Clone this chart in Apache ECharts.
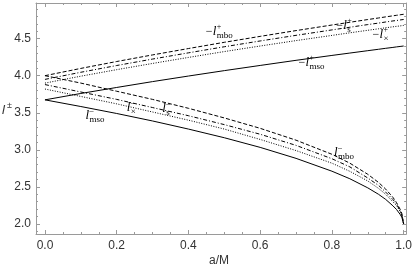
<!DOCTYPE html>
<html lang="en">
<head>
<meta charset="UTF-8" />
<title>l vs a/M</title>
<style>
  body { margin: 0; background: #fff; }
  #chart { width: 415px; height: 273px; }
</style>
</head>
<body>
<div id="chart"></div>
<script src="https://cdn.jsdelivr.net/npm/echarts@6/dist/echarts.min.js"></script>
<script>
// spin values a/M where the curves were read
const spin = [0, 0.1, 0.2, 0.3, 0.4, 0.5, 0.6, 0.7, 0.8, 0.85, 0.9, 0.93, 0.95, 0.97, 0.98, 0.99, 0.995, 1.0];

// upper branch (-l+)
const mboPlus = [4.0, 4.098, 4.191, 4.28, 4.366, 4.45, 4.53, 4.608, 4.683, 4.72, 4.757, 4.778, 4.793, 4.807, 4.814, 4.821, 4.825, 4.828];
const sPlus = [3.95, 4.046, 4.137, 4.224, 4.308, 4.39, 4.468, 4.544, 4.617, 4.653, 4.689, 4.709, 4.724, 4.738, 4.744, 4.751, 4.755, 4.758];
const xPlus = [3.9, 3.993, 4.081, 4.165, 4.246, 4.325, 4.4, 4.473, 4.543, 4.578, 4.612, 4.632, 4.646, 4.659, 4.665, 4.671, 4.675, 4.678];
const msoPlus = [3.674, 3.76, 3.841, 3.92, 3.995, 4.068, 4.138, 4.207, 4.273, 4.305, 4.337, 4.356, 4.369, 4.381, 4.388, 4.394, 4.397, 4.4];

// lower branch (l-)
const mboMinus = [4.0, 3.9, 3.79, 3.68, 3.56, 3.43, 3.29, 3.13, 2.94, 2.82, 2.67, 2.56, 2.47, 2.36, 2.29, 2.2, 2.14, 2.0];
const sMinus = [3.88, 3.78, 3.68, 3.57, 3.46, 3.34, 3.21, 3.06, 2.88, 2.77, 2.62, 2.52, 2.43, 2.33, 2.27, 2.18, 2.12, 2.0];
const xMinus = [3.82, 3.72, 3.62, 3.51, 3.4, 3.28, 3.14, 2.99, 2.82, 2.71, 2.58, 2.48, 2.4, 2.3, 2.25, 2.17, 2.11, 2.0];
const msoMinus = [3.674, 3.584, 3.49, 3.389, 3.28, 3.163, 3.033, 2.885, 2.712, 2.61, 2.487, 2.4, 2.331, 2.245, 2.196, 2.131, 2.09, 2.0];

// ticks
const xTicks = [0, 0.2, 0.4, 0.6, 0.8, 1.0];
const xMinorTicks = [0.05, 0.1, 0.15, 0.25, 0.3, 0.35, 0.45, 0.5, 0.55, 0.65, 0.7, 0.75, 0.85, 0.9, 0.95];
const yTicks = [2.0, 2.5, 3.0, 3.5, 4.0, 4.5];
const yMinorTicks = [1.9, 2.1, 2.2, 2.3, 2.4, 2.6, 2.7, 2.8, 2.9, 3.1, 3.2, 3.3, 3.4, 3.6, 3.7, 3.8, 3.9, 4.1, 4.2, 4.3, 4.4, 4.6, 4.7, 4.8, 4.9];

// curve labels: [a, l, minus sign, sup, sub]
const curveLabels = [
  [0.448, 4.595, true, "+", "mbo"],
  [0.812, 4.676, true, "+", "s"],
  [0.913, 4.554, true, "+", "\u00d7"],
  [0.707, 4.176, true, "+", "mso"],
  [0.113, 3.459, false, "\u2013", "mso"],
  [0.228, 3.568, false, "\u2013", "\u00d7"],
  [0.327, 3.554, false, "\u2013", "s"],
  [0.806, 2.959, false, "\u2013", "mbo"],
];

const frameColor = "#9a9a9a";
const xRange = { min: -0.025, max: 1.007 };
const yRange = { min: 1.865, max: 4.98 };

function frameAxis(position, range, ticks, len, showLine) {
  return {
    type: "value",
    position: position,
    min: range.min,
    max: range.max,
    splitLine: { show: false },
    axisLine: { show: showLine, onZero: false, lineStyle: { color: frameColor, width: 1 } },
    axisTick: {
      show: true,
      inside: true,
      length: len,
      customValues: ticks,
      lineStyle: { color: frameColor, width: 1 },
    },
    axisLabel: { show: false },
  };
}

const tickLabel = {
  show: true,
  color: "#333",
  fontFamily: "Liberation Sans",
  fontSize: 12,
  formatter: (v) => v.toFixed(1),
};

const xMain = frameAxis("bottom", xRange, xTicks, 4, true);
xMain.axisLabel = Object.assign({ customValues: xTicks, margin: 6 }, tickLabel);
const yMain = frameAxis("left", yRange, yTicks, 4, true);
yMain.axisLabel = Object.assign({ customValues: yTicks, margin: 5 }, tickLabel);

const xAxes = [
  xMain,
  frameAxis("bottom", xRange, xMinorTicks, 2, false),
  frameAxis("top", xRange, xTicks, 4, true),
  frameAxis("top", xRange, xMinorTicks, 2, false),
];
const yAxes = [
  yMain,
  frameAxis("left", yRange, yMinorTicks, 2, false),
  frameAxis("right", yRange, yTicks, 4, true),
  frameAxis("right", yRange, yMinorTicks, 2, false),
];

function curve(values, dash) {
  return {
    type: "line",
    xAxisIndex: 0,
    yAxisIndex: 0,
    data: spin.map((a, i) => [a, values[i]]),
    showSymbol: false,
    lineStyle: { color: "#000", width: 1, type: dash },
    silent: true,
  };
}

const chart = echarts.init(document.getElementById("chart"), null, { renderer: "canvas" });
chart.setOption({
  animation: false,
  backgroundColor: "#fff",
  grid: { left: 36, right: 4, top: 3, bottom: 39, containLabel: false },
  xAxis: xAxes,
  yAxis: yAxes,
  series: [
    curve(mboPlus, [4, 2]),
    curve(sPlus, [4, 2, 1, 2]),
    curve(xPlus, [1, 1.5]),
    curve(msoPlus, "solid"),
    curve(mboMinus, [4, 2]),
    curve(sMinus, [4, 2, 1, 2]),
    curve(xMinus, [1, 1.5]),
    curve(msoMinus, "solid"),
  ],
});

// curve labels placed from data coordinates
const serif = "Liberation Serif";
const graphics = [];
curveLabels.forEach(([a, v, minus, sup, sub]) => {
  const [px, py] = chart.convertToPixel({ xAxisIndex: 0, yAxisIndex: 0 }, [a, v]);
  let x = px;
  const children = [];
  if (minus) {
    children.push({ type: "text", x: x, y: py, style: { text: "\u2212", font: "12px " + serif, fill: "#000", verticalAlign: "middle" } });
    x += 7;
  }
  children.push({ type: "text", x: x, y: py, style: { text: "l", font: "italic 13px " + serif, fill: "#000", verticalAlign: "middle" } });
  children.push({ type: "text", x: x + 4, y: py - 5, style: { text: sup, font: "8px " + serif, fill: "#000", verticalAlign: "middle" } });
  children.push({ type: "text", x: x + 4, y: py + 4, style: { text: sub, font: "9px " + serif, fill: "#000", verticalAlign: "middle" } });
  graphics.push({ type: "group", children: children });
});

// axis titles
graphics.push({
  type: "text", left: 2, top: 104,
  style: { text: "l", font: "italic 13px Liberation Sans", fill: "#333" },
});
graphics.push({
  type: "text", left: 7, top: 101,
  style: { text: "\u00b1", font: "9px Liberation Sans", fill: "#333" },
});
graphics.push({
  type: "text", left: 209, top: 255,
  style: { text: "a/M", font: "12px Liberation Sans", fill: "#333" },
});

chart.setOption({ graphic: graphics });
</script>
</body>
</html>
